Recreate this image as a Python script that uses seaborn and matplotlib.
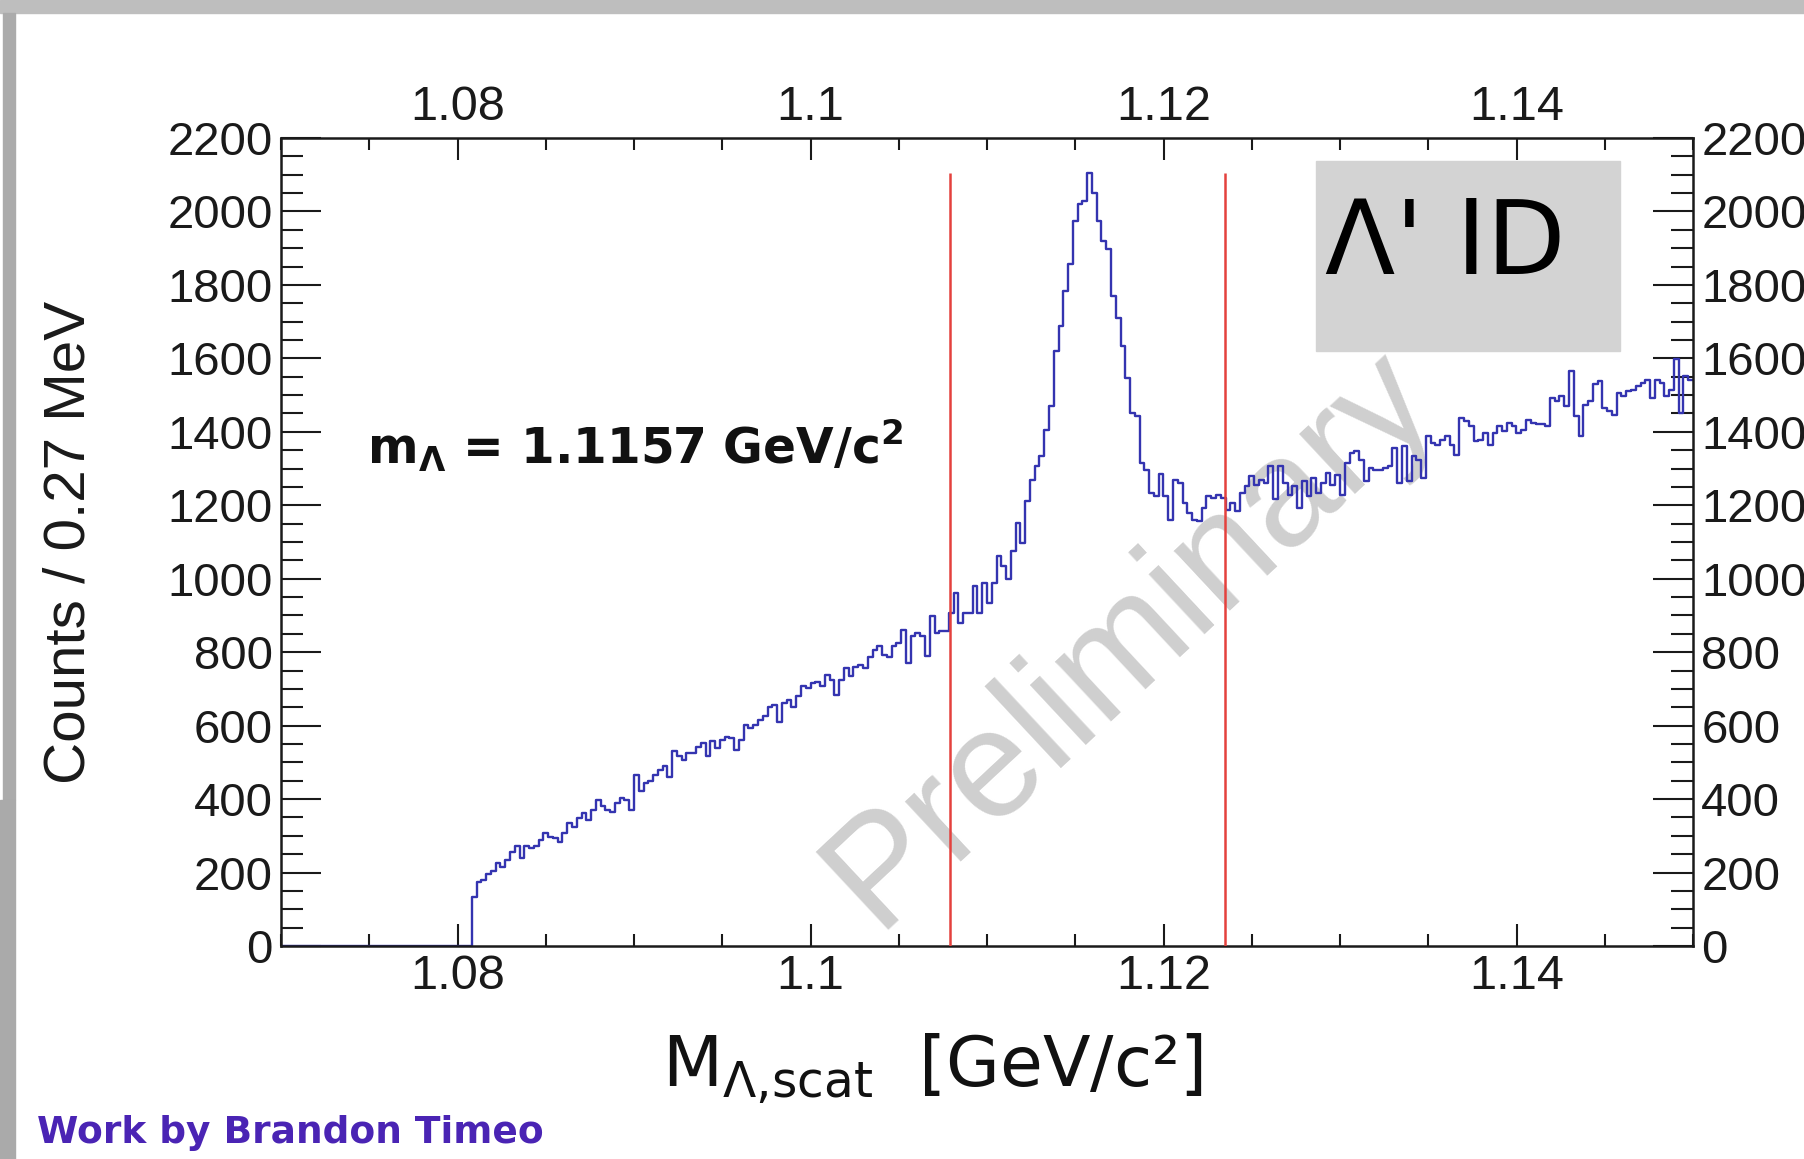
import numpy as np
import pandas as pd
import matplotlib
matplotlib.use('Agg')
import matplotlib.pyplot as plt
from matplotlib.patches import Rectangle
from matplotlib.ticker import MultipleLocator, FormatStrFormatter
import seaborn as sns

#%% data: Lambda invariant mass, 296 bins of 0.27 MeV from 1.07 to 1.15 GeV/c^2
m_lo, m_hi, n_bins = 1.07, 1.15, 296
first_bin = 40  # bins below this one are empty
counts_rise = [134, 173, 180, 196, 205, 225, 216, 234, 257, 271, 239, 271, 266, 271, 289, 307,
               298, 293, 284, 307, 334, 325, 348, 362, 343, 371, 398, 380, 369, 366, 389, 402,
               398, 371, 466, 421, 443, 448, 466, 480, 489, 461, 530, 516, 507, 525,
               525, 543, 552, 516, 557, 539, 561, 570, 566, 534, 561, 602, 593, 602, 616, 625,
               652, 657, 611, 661, 670, 652, 680, 707, 702, 716, 720, 707, 738, 725, 684, 725,
               757, 734, 761, 766, 757, 788, 807, 816, 793, 788, 816, 825, 861, 770, 843, 852]
counts_peak = [843, 789, 898, 852, 857, 857, 907, 961, 880, 907, 907, 980, 907, 989, 934, 989,
               1061, 1034, 998, 1075, 1152, 1098, 1211, 1270, 1306, 1334, 1406, 1470, 1620, 1688,
               1783, 1856, 1974, 2019, 2028, 2105, 2051, 1974, 1919, 1897, 1769, 1710,
               1633, 1547, 1452, 1443, 1315, 1297, 1234, 1225, 1284, 1225, 1161, 1270, 1261, 1207,
               1179, 1161, 1157, 1193, 1225, 1220, 1229, 1220, 1188, 1207, 1184, 1234, 1252, 1279,
               1256, 1270, 1261, 1306, 1216, 1306, 1261, 1229, 1252, 1193, 1266, 1225, 1275, 1234]
counts_tail = [1261, 1288, 1256, 1283, 1229, 1315, 1342, 1347, 1324, 1265, 1302, 1297, 1297, 1302,
               1306, 1356, 1261, 1361, 1265, 1333, 1324, 1274, 1388, 1370, 1365, 1379, 1388, 1365,
               1338, 1438, 1429, 1415, 1374, 1379, 1397, 1365, 1397, 1415, 1401, 1424,
               1415, 1397, 1406, 1433, 1424, 1420, 1420, 1415, 1492, 1483, 1497, 1470, 1565, 1442,
               1388, 1474, 1483, 1529, 1538, 1465, 1456, 1447, 1506, 1497, 1510, 1515, 1524, 1533,
               1542, 1492, 1542, 1533, 1497, 1515, 1597, 1451, 1551, 1542]
cut_lo, cut_hi = 1.1079, 1.1235   # red selection lines
m_lambda = 1.1157
x_major, x_minor = 0.02, 0.005
y_major, y_minor = 200, 50
y_max = 2200

edges = np.linspace(m_lo, m_hi, n_bins + 1)
counts = np.zeros(n_bins)
counts[first_bin:] = counts_rise + counts_peak + counts_tail
centers = 0.5 * (edges[:-1] + edges[1:])
df = pd.DataFrame({'mass': centers, 'counts': counts})

#%% style
sns.set_style('white')
plt.rcParams['font.family'] = ['Liberation Sans', 'DejaVu Sans']
plt.rcParams['mathtext.fontset'] = 'dejavusans'
plt.rcParams['mathtext.default'] = 'regular'

W, H = 1804, 1159
fig = plt.figure(figsize=(W / 100, H / 100), dpi=100)
fig.patch.set_facecolor('white')

# slide frame
fig.patches.append(Rectangle((0, 1 - 13 / H), 1, 13 / H, transform=fig.transFigure,
                             color='#bebebe', zorder=0))
fig.patches.append(Rectangle((3 / W, 1 - 800 / H), 12 / W, 787 / H, transform=fig.transFigure,
                             color='#ababab', zorder=0))
fig.patches.append(Rectangle((0, 0), 15 / W, 1 - 800 / H, transform=fig.transFigure,
                             color='#aaaaaa', zorder=0))

ax = fig.add_axes([281 / W, 1 - 946 / H, 1412 / W, 808 / H])

#%% histogram
sns.histplot(data=df, x='mass', weights='counts', bins=n_bins, binrange=(m_lo, m_hi),
             element='step', fill=False, color='#3434b0', linewidth=1.7, ax=ax, zorder=2)
ax.vlines([cut_lo, cut_hi], 0, counts.max(), color='#e4413d', linewidth=1.8, zorder=4)

ax.set_xlim(m_lo, m_hi)
ax.set_ylim(0, y_max)
ax.set_xlabel('')
ax.set_ylabel('Counts / 0.27 MeV', fontsize=42, color='#1a1a1a')
ax.yaxis.set_label_coords(-0.131, 0.5)

ax.xaxis.set_major_locator(MultipleLocator(x_major))
ax.xaxis.set_minor_locator(MultipleLocator(x_minor))
ax.yaxis.set_major_locator(MultipleLocator(y_major))
ax.yaxis.set_minor_locator(MultipleLocator(y_minor))
ax.xaxis.set_major_formatter(FormatStrFormatter('%g'))
ax.yaxis.set_major_formatter(FormatStrFormatter('%d'))

ax.tick_params(axis='x', which='both', direction='in', top=True, bottom=True,
               labeltop=True, labelbottom=True, width=1.5, colors='#1a1a1a', labelsize=35)
ax.tick_params(axis='x', which='major', length=16, pad=6)
ax.tick_params(axis='x', which='minor', length=8.5)
ax.tick_params(axis='y', which='both', direction='in', left=True, right=True,
               labelleft=True, labelright=True, width=1.5, colors='#1a1a1a', labelsize=34)
ax.tick_params(axis='y', which='major', length=29, pad=6)
ax.tick_params(axis='y', which='minor', length=16)
for s in ax.spines.values():
    s.set_linewidth(1.8)
    s.set_color('#1a1a1a')
    s.set_zorder(3)

#%% text
ax.text(1.0749, 1313, 'm$_{\\mathregular{Λ}}$ = 1.1157 GeV/c$^{\\mathregular{2}}$',
        family='DejaVu Sans', fontweight='bold', fontsize=35, va='baseline', ha='left',
        color='#111111', zorder=5)
ax.text(0.601, 0.382, 'Preliminary', transform=ax.transAxes, fontsize=111,
        color='#cfcfcf', rotation=43, rotation_mode='anchor', ha='center', va='center',
        zorder=1)

fig.text(932 / W, 1 - 1087 / H, '$M_{Λ{,}scat}$  [GeV/c²]', family='DejaVu Sans',
         fontsize=50, ha='center', va='baseline', color='#111111')

fig.patches.append(Rectangle((1316 / W, 1 - 351 / H), 304 / W, 190 / H,
                             transform=fig.transFigure, color='#d3d3d3', zorder=5))
fig.text(1445 / W, 1 - 245 / H, "Λ' ID", family='DejaVu Sans', fontsize=74,
         ha='center', va='center', color='black', zorder=6)

fig.text(37 / W, 1 - 1143 / H, 'Work by Brandon Timeo', family='DejaVu Sans',
         fontweight='bold', fontsize=27, color='#4a24b4', ha='left', va='baseline')

fig.savefig('out.png', dpi=100)
